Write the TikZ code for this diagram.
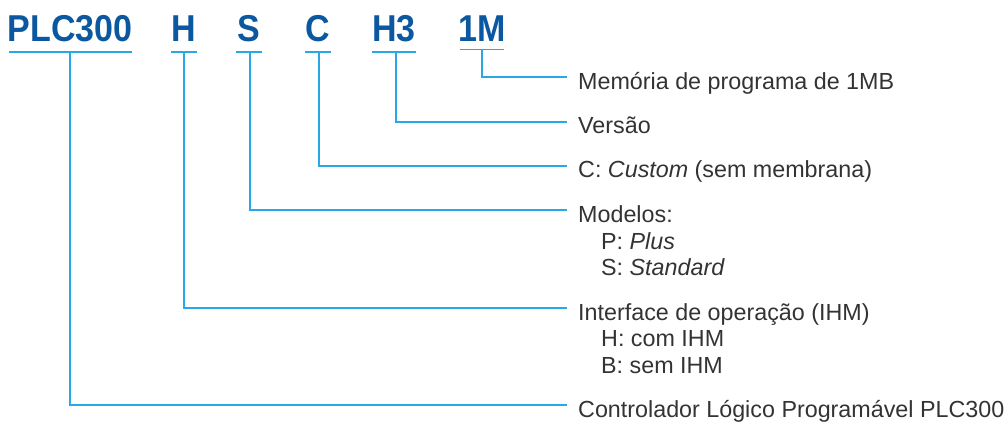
\documentclass[tikz,border=0pt]{standalone}
\usepackage{fontspec}
\setmainfont{Liberation Sans}
\definecolor{hdrblue}{HTML}{0B57A0}
\definecolor{lineblue}{HTML}{2AA8E6}
\definecolor{txtgray}{HTML}{333333}
\newcommand{\hdrtxt}[1]{\scalebox{1}[1.1]{#1}}
\begin{document}
\begin{tikzpicture}[x=1pt,y=-1pt,
  hdr/.style={font=\fontsize{34}{34}\selectfont\bfseries, text=hdrblue, inner sep=0pt, anchor=base},
  lbl/.style={font=\fontsize{23.3}{26.5}\selectfont, text=txtgray, inner sep=0pt, anchor=base west, align=left},
  conn/.style={draw=lineblue, line width=1.2pt},
  uline/.style={draw=lineblue, line width=1.5pt}]
\useasboundingbox (0,0) rectangle (1006,421);
% header codes
\node[hdr] (plc) at (70,41.5) {\hdrtxt{PLC300}};
\node[hdr] (h)   at (184,41.5) {\hdrtxt{H}};
\node[hdr] (s)   at (249,41.5) {\hdrtxt{S}};
\node[hdr] (c)   at (318,41.5) {\hdrtxt{C}};
\node[hdr] (h3)  at (394,41.5) {\hdrtxt{H3}};
\node[hdr] (m)   at (482,41.5) {\hdrtxt{1M}};
% underline coordinates
\coordinate (plcL) at (9,52);  \coordinate (plcR) at (132,52); \coordinate (plcB) at (70,52);
\coordinate (hL) at (171,52);  \coordinate (hR) at (197,52);   \coordinate (hB) at (184,52);
\coordinate (sL) at (236,52);  \coordinate (sR) at (262,52);   \coordinate (sB) at (250,52);
\coordinate (cL) at (305,52);  \coordinate (cR) at (331,52);   \coordinate (cB) at (319,52);
\coordinate (h3L) at (372,52); \coordinate (h3R) at (416,52);  \coordinate (h3B) at (396,52);
\coordinate (mL) at (460,49.5);\coordinate (mR) at (504,49.5); \coordinate (mB) at (482,49.5);
\draw[uline] (plcL) -- (plcR);
\draw[uline] (hL) -- (hR);
\draw[uline] (sL) -- (sR);
\draw[uline] (cL) -- (cR);
\draw[uline] (h3L) -- (h3R);
\draw[uline] (mL) -- (mR);
% line end coordinates
\coordinate (eM) at (567,77);
\coordinate (eV) at (567,122);
\coordinate (eC) at (567,166);
\coordinate (eS) at (567,210);
\coordinate (eH) at (567,308);
\coordinate (eP) at (567,405);
% labels
\node[lbl] (tM) at (578,89) {Memória de programa de 1MB};
\node[lbl] (tV) at (578,133) {Versão};
\node[lbl] (tC) at (578,177) {C: \textit{Custom} (sem membrana)};
\node[lbl] (tS) at (578,275.5) {Modelos:\\\hspace*{23pt}P: \textit{Plus}\\\hspace*{23pt}S: \textit{Standard}};
\node[lbl] (tH) at (578,373) {Interface de operação (IHM)\\\hspace*{23pt}H: com IHM\\\hspace*{23pt}B: sem IHM};
\node[lbl] (tP) at (578,417) {Controlador Lógico Programável PLC300};
% connectors
\draw[conn] (mB) |- (eM);
\draw[conn] (h3B) |- (eV);
\draw[conn] (cB) |- (eC);
\draw[conn] (sB) |- (eS);
\draw[conn] (hB) |- (eH);
\draw[conn] (plcB) |- (eP);
\end{tikzpicture}
\end{document}
